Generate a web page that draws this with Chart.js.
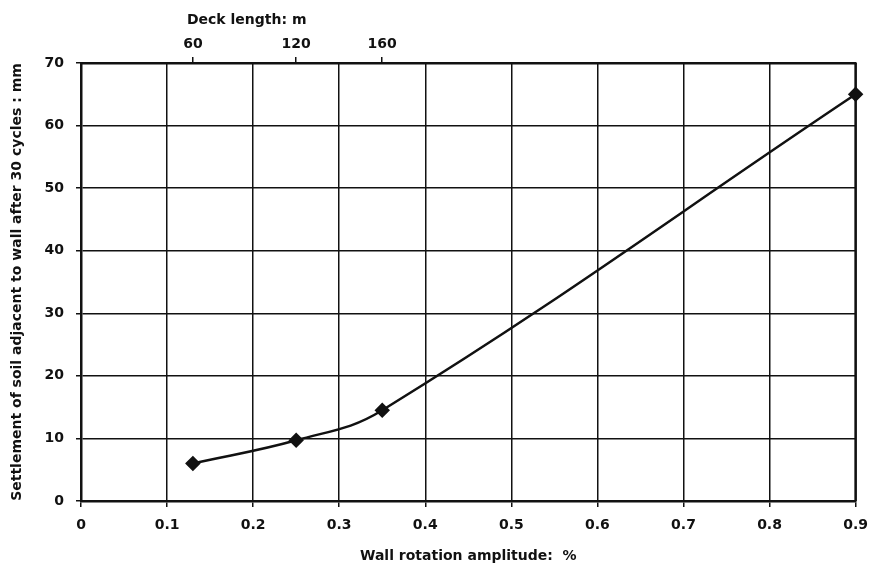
<!DOCTYPE html>
<html>
<head>
<meta charset="utf-8">
<script src="https://cdn.jsdelivr.net/npm/chart.js@4"></script>
<style>
  html, body { margin: 0; padding: 0; background: #fff; }
  #wrap { width: 878px; height: 571px; }
</style>
</head>
<body>
<div id="wrap"><canvas id="settlement-chart" width="878" height="571"></canvas></div>
<script>
// wall rotation vs settlement, deck length on the top axis
const rotation = [0.13, 0.25, 0.35, 0.9]
const settlement = [6, 9.7, 14.5, 65]
const deckLength = [60, 120, 160]

const xTickValues = [0, 0.1, 0.2, 0.3, 0.4, 0.5, 0.6, 0.7, 0.8, 0.9]
const xTickLabels = ['0', '0.1', '0.2', '0.3', '0.4', '0.5', '0.6', '0.7', '0.8', '0.9']
const yTickValues = [0, 10, 20, 30, 40, 50, 60, 70]

const FONT = '"DejaVu Sans", Verdana, sans-serif'
const INK = '#111'

const points = rotation.map((x, i) => ({ x, y: settlement[i] }))

// right edge of the frame + the "Deck length" caption over the top ticks
const framePlugin = {
  id: 'frame',
  beforeDatasetsDraw(chart) {
    const { ctx, chartArea } = chart
    ctx.save()
    ctx.strokeStyle = INK
    ctx.lineWidth = 2.5
    ctx.beginPath()
    ctx.moveTo(chartArea.right, chartArea.top)
    ctx.lineTo(chartArea.right, chartArea.bottom)
    ctx.stroke()
    ctx.restore()
  },
  afterDraw(chart) {
    const { ctx } = chart
    const x2 = chart.scales.x2
    ctx.save()
    ctx.fillStyle = INK
    ctx.font = 'bold 14px ' + FONT
    ctx.textAlign = 'left'
    ctx.textBaseline = 'middle'
    ctx.fillText('Deck length: m', x2.getPixelForValue(rotation[0]) - 6, 20)
    ctx.restore()
  }
}

new Chart(document.getElementById('settlement-chart'), {
  type: 'scatter',
  data: {
    datasets: [{
      data: points,
      showLine: true,
      borderColor: INK,
      backgroundColor: INK,
      borderWidth: 2.5,
      tension: 0.4,
      pointStyle: 'rectRot',
      pointRadius: 6,
      pointHoverRadius: 6,
      clip: false
    }]
  },
  options: {
    responsive: false,
    animation: false,
    layout: { padding: { left: 0, right: 19, top: 0, bottom: 0 } },
    plugins: {
      legend: { display: false },
      tooltip: { enabled: false }
    },
    scales: {
      x: {
        type: 'linear',
        position: 'bottom',
        min: 0,
        max: 0.9,
        afterBuildTicks: (s) => { s.ticks = xTickValues.map(value => ({ value })) },
        afterFit: (s) => { s.height = 70 },
        ticks: {
          autoSkip: false,
          maxRotation: 0,
          padding: 10,
          color: INK,
          font: { family: FONT, size: 14, weight: 'bold' },
          callback: (v, i) => xTickLabels[i]
        },
        grid: { color: INK, lineWidth: 1.5, tickLength: 6 },
        border: { color: INK, width: 2.5 },
        title: {
          display: true,
          text: 'Wall rotation amplitude:  %',
          color: INK,
          font: { family: FONT, size: 14, weight: 'bold' },
          padding: { top: 0, bottom: 6 }
        }
      },
      x2: {
        type: 'linear',
        position: 'top',
        min: 0,
        max: 0.9,
        afterBuildTicks: (s) => { s.ticks = deckLength.map((d, i) => ({ value: rotation[i] })) },
        afterFit: (s) => { s.height = 63 },
        ticks: {
          autoSkip: false,
          maxRotation: 0,
          padding: 4,
          color: INK,
          font: { family: FONT, size: 14, weight: 'bold' },
          callback: (v, i) => String(deckLength[i])
        },
        grid: { drawOnChartArea: false, color: INK, lineWidth: 1.5, tickLength: 6 },
        border: { color: INK, width: 2.5 }
      },
      y: {
        type: 'linear',
        min: 0,
        max: 70,
        afterBuildTicks: (s) => { s.ticks = yTickValues.map(value => ({ value })) },
        afterFit: (s) => { s.width = 81 },
        ticks: {
          padding: 12,
          color: INK,
          font: { family: FONT, size: 14, weight: 'bold' }
        },
        grid: { color: INK, lineWidth: 1.5, tickLength: 5 },
        border: { color: INK, width: 2.5 },
        title: {
          display: true,
          text: 'Settlement of soil adjacent to wall after 30 cycles : mm',
          color: INK,
          font: { family: FONT, size: 14, weight: 'bold' },
          padding: { top: 9, bottom: 0 }
        }
      }
    }
  },
  plugins: [framePlugin]
})
</script>
</body>
</html>
